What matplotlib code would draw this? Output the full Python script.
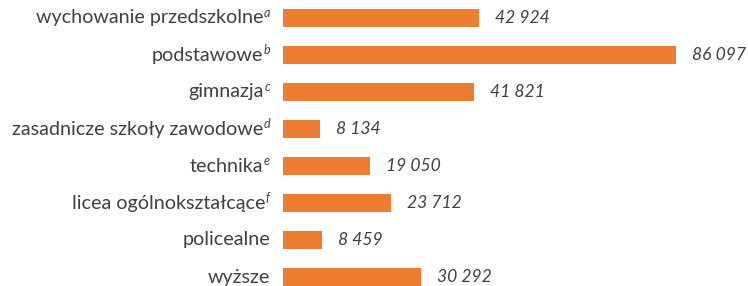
import matplotlib
matplotlib.use("Agg")
import matplotlib.pyplot as plt
from matplotlib.transforms import offset_copy

categories = ["wychowanie przedszkolne", "podstawowe", "gimnazja",
              "zasadnicze szkoły zawodowe", "technika",
              "licea ogólnokształcące", "policealne", "wyższe"]
superscripts = ["a", "b", "c", "d", "e", "f", "", ""]
values = [42924, 86097, 41821, 8134, 19050, 23712, 8459, 30292]
value_labels = ["42 924", "86 097", "41 821", "8 134", "19 050", "23 712", "8 459", "30 292"]

W, H = 748, 286
fig = plt.figure(figsize=(W / 100, H / 100), dpi=100)
ax = fig.add_axes([283 / W, 0, 1 - 283 / W, 1])

bar_color = "#ED7D31"
text_color = "#404040"
font = "Lato"

ypos = list(range(len(categories)))
ax.barh(ypos, values, height=0.5, color=bar_color)
ax.set_xlim(0, 465 / (393 / 86097))
ax.set_ylim((H - 18) / 37, -18 / 37)
ax.axis("off")

fig.canvas.draw()
renderer = fig.canvas.get_renderer()
label_right = 270 - 283  # pixels relative to axes left edge
lab_size = 14.2
val_size = 12.6
sup_size = 9
for y, cat, sup in zip(ypos, categories, superscripts):
    base = ax.get_yaxis_transform()
    wsup = 0
    if sup:
        tr = offset_copy(base, fig=fig, x=label_right * 0.72, y=3.5, units="points")
        t = ax.text(0, y, sup, transform=tr, ha="right", va="center",
                    fontsize=sup_size, style="italic", color=text_color, family=font)
        wsup = t.get_window_extent(renderer).width + 0.5
    tr = offset_copy(base, fig=fig, x=(label_right - wsup) * 0.72, y=0, units="points")
    ax.text(0, y, cat, transform=tr, ha="right", va="center",
            fontsize=lab_size, color=text_color, family=font)

for y, v, lab in zip(ypos, values, value_labels):
    tr = offset_copy(ax.transData, fig=fig, x=16 * 0.72, y=0, units="points")
    ax.text(v, y, lab, transform=tr, ha="left", va="center",
            fontsize=val_size, style="italic", color=text_color, family=font)

fig.savefig("out.png", dpi=100)
